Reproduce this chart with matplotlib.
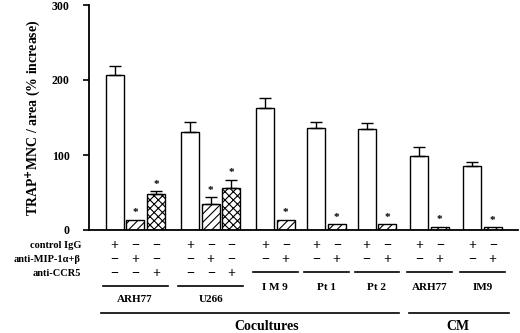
import matplotlib
matplotlib.use("Agg")
import matplotlib.pyplot as plt
from matplotlib.transforms import blended_transform_factory
import numpy as np

plt.rcParams['font.family'] = ['Liberation Serif', 'DejaVu Serif']
plt.rcParams['font.weight'] = 'bold'
plt.rcParams['hatch.linewidth'] = 0.8

# ---- data ----
group_labels = ['ARH77', 'U266', 'I M 9', 'Pt 1', 'Pt 2', 'ARH77', 'IM9']
control_vals = [207, 131, 163, 136, 135, 99, 86]
control_errs = [12, 13, 13, 8, 8, 12, 5]
mip_vals = [14, 35, 14, 8, 8, 4.5, 4]
mip_errs = [0, 9, 0, 0, 0, 0, 0]
ccr5_vals = [48, 56]
ccr5_errs = [4, 11]
row_labels = ['control IgG', 'anti-MIP-1\u03b1+\u03b2', 'anti-CCR5']
section_labels = ['Cocultures', 'CM']
y_ticks = [0, 100, 200, 300]

# ---- layout ----
W, H = 520, 333
fig = plt.figure(figsize=(W / 100, H / 100), dpi=100)
ax_left, ax_right, ax_bottom, ax_top = 89, 518, 230, 5
ax = fig.add_axes([ax_left / W, 1 - ax_bottom / H, (ax_right - ax_left) / W, (ax_bottom - ax_top) / H])
ax.set_xlim(0, ax_right - ax_left)
ax.set_ylim(0, 300)

group_starts = [25.5, 101, 176, 227, 277.5, 330, 383]
pitch = 20.7
bw = 18

def py(p):
    return 1 - p / H

trans = blended_transform_factory(ax.transData, fig.transFigure)

ekw = dict(fmt='none', ecolor='black', elinewidth=1.0, capsize=4.5, capthick=1.0)
star_off = 9

for i, g0 in enumerate(group_starts):
    xs = [g0 + k * pitch for k in range(3 if i < 2 else 2)]
    # control
    ax.bar(xs[0], control_vals[i], width=bw, facecolor='white', edgecolor='black', linewidth=1.0)
    ax.errorbar(xs[0], control_vals[i], yerr=[[0], [control_errs[i]]], **ekw)
    # anti-MIP
    ax.bar(xs[1], mip_vals[i], width=bw, facecolor='white', edgecolor='black', linewidth=1.0, hatch='////')
    top = mip_vals[i]
    if mip_errs[i] > 0:
        ax.errorbar(xs[1], mip_vals[i], yerr=[[0], [mip_errs[i]]], **ekw)
        top += mip_errs[i]
    ax.text(xs[1], top + star_off, '*', ha='center', va='center', fontsize=8)
    # anti-CCR5
    if i < 2:
        ax.bar(xs[2], ccr5_vals[i], width=bw, facecolor='white', edgecolor='black', linewidth=1.0, hatch='xxxx')
        ax.errorbar(xs[2], ccr5_vals[i], yerr=[[0], [ccr5_errs[i]]], **ekw)
        ax.text(xs[2], ccr5_vals[i] + ccr5_errs[i] + star_off, '*', ha='center', va='center', fontsize=8)

    # +/- table
    nrows = len(xs)
    row_y = [245, 259, 273]
    for r in range(nrows):
        for k, x in enumerate(xs):
            s = '+' if k == r else '\u2212'
            ax.text(x, py(row_y[r]), s, transform=trans, ha='center', va='center', fontsize=10)
    if i < 2:
        line_y, lab_y = 286, 299
    else:
        line_y, lab_y = 272, 287.5
    x0, x1 = xs[0] - 12, xs[-1] + 12
    ax.plot([x0, x1], [py(line_y), py(line_y)], transform=trans, color='black', lw=1.2, clip_on=False)
    ax.text((x0 + x1) / 2, py(lab_y), group_labels[i], transform=trans, ha='center', va='center', fontsize=8)

# row labels
for r, lab in enumerate(row_labels):
    fig.text(81 / W, py([245, 259, 273][r]), lab, ha='right', va='center', fontsize=7.5)

# section lines
sec_x = [(101 - ax_left, 399 - ax_left), (409 - ax_left, 509 - ax_left)]
sec_text_x = [267 - ax_left, 458 - ax_left]
for (a, b), tx, lab in zip(sec_x, sec_text_x, section_labels):
    ax.plot([a, b], [py(313), py(313)], transform=trans, color='black', lw=1.2, clip_on=False)
    ax.text(tx, py(327), lab, transform=trans, ha='center', va='center', fontsize=10)

# axes styling
ax.spines['top'].set_visible(False)
ax.spines['right'].set_visible(False)
ax.spines['left'].set_linewidth(1.3)
ax.spines['bottom'].set_linewidth(1.3)
ax.set_xticks([])
ax.set_yticks(y_ticks)
ax.set_yticklabels([str(t) for t in y_ticks], fontsize=8.5, fontweight='bold')
ax.tick_params(axis='y', direction='out', length=4, width=1.2, pad=10)
ax.set_ylabel('TRAP$^{\\mathbf{+}}$MNC / area (% increase)', fontsize=10, fontweight='bold', labelpad=6)

fig.savefig('out.png', dpi=100)
